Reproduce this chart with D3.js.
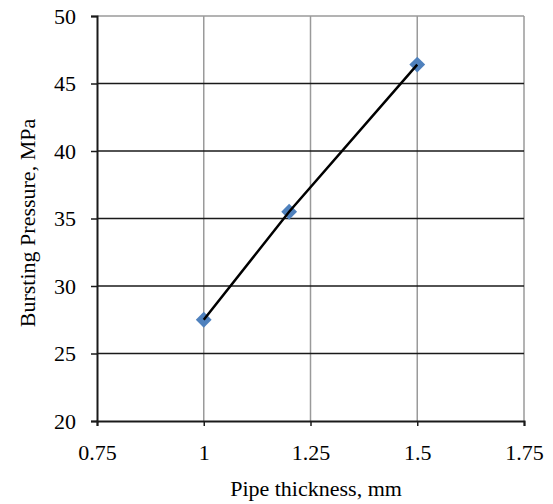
<!DOCTYPE html>
<html><head><meta charset="utf-8">
<script src="https://cdn.jsdelivr.net/npm/d3@7"></script>
<style>body{margin:0;background:#fff}</style>
</head><body>
<script>
const thickness = [1, 1.2, 1.5];
const pressure = [27.5, 35.5, 46.4];
const xTicks = [0.75, 1, 1.25, 1.5, 1.75];
const yTicks = [20, 25, 30, 35, 40, 45, 50];
const xLabel = "Pipe thickness,  mm";
const yLabel = "Bursting Pressure, MPa";

const W = 553, H = 504;
const svg = d3.select("body").append("svg").attr("width", W).attr("height", H);
const x = d3.scaleLinear().domain([0.75, 1.75]).range([97, 524]);
const y = d3.scaleLinear().domain([20, 50]).range([421, 16]);
const font = "'Liberation Serif', 'Times New Roman', serif";

// vertical gridlines (grey)
svg.append("g").selectAll("line").data(xTicks.slice(1)).join("line")
  .attr("x1", d => x(d)).attr("x2", d => x(d)).attr("y1", y(50)).attr("y2", y(20))
  .attr("stroke", "#9a9a9a").attr("stroke-width", 1.5);
// horizontal gridlines (black)
svg.append("g").selectAll("line").data(yTicks.slice(1)).join("line")
  .attr("x1", x(0.75)).attr("x2", x(1.75)).attr("y1", d => y(d)).attr("y2", d => y(d))
  .attr("stroke", d => d === 50 ? "#9a9a9a" : "#1a1a1a").attr("stroke-width", 1.5);

// axes
const xAxis = svg.append("g").attr("transform", `translate(0,${y(20)})`)
  .call(d3.axisBottom(x).tickValues(xTicks).tickFormat(d => String(d)).tickSize(5).tickPadding(18));
const yAxis = svg.append("g").attr("transform", `translate(${x(0.75)},0)`)
  .call(d3.axisLeft(y).tickValues(yTicks).tickSize(6).tickPadding(15));
[xAxis, yAxis].forEach(g => {
  g.attr("font-family", font).attr("font-size", 22);
  g.select(".domain").attr("stroke", "#1a1a1a").attr("stroke-width", 2);
  g.selectAll(".tick line").attr("stroke", "#1a1a1a").attr("stroke-width", 1.5);
  g.selectAll(".tick text").attr("fill", "#000");
});

const pts = thickness.map((t, i) => [t, pressure[i]]);

// markers
svg.append("g").selectAll("path").data(pts).join("path")
  .attr("transform", d => `translate(${x(d[0])},${y(d[1])}) rotate(45)`)
  .attr("d", d3.symbol(d3.symbolSquare, 125)())
  .attr("fill", "#4f81bd");
// line on top of markers
svg.append("path").datum(pts)
  .attr("d", d3.line().x(d => x(d[0])).y(d => y(d[1])))
  .attr("fill", "none").attr("stroke", "#000").attr("stroke-width", 2.5);

// labels
svg.append("text").attr("x", 316).attr("y", 496).attr("text-anchor", "middle")
  .attr("font-family", font).attr("font-size", 22).text(xLabel);
svg.append("text").attr("transform", "translate(35,223) rotate(-90)").attr("text-anchor", "middle")
  .attr("font-family", font).attr("font-size", 22).text(yLabel);
</script>
</body></html>
